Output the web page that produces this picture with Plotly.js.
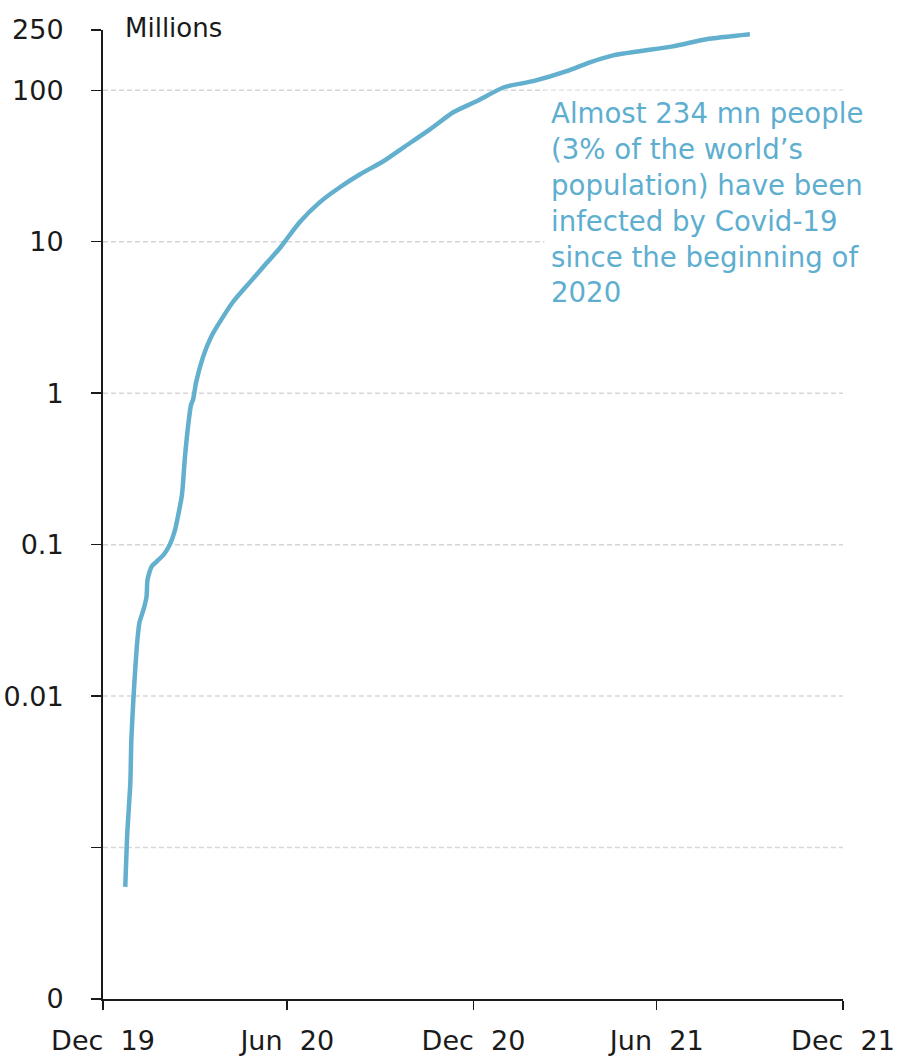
<!DOCTYPE html>
<html>
<head>
<meta charset="utf-8">
<script src="https://cdn.plot.ly/plotly-3.0.1.min.js"></script>
<style>
  html, body { margin: 0; padding: 0; background: #ffffff; }
  #chart { width: 897px; height: 1058px; }
</style>
</head>
<body>
<div id="chart"></div>
<script>
// Cumulative Covid-19 cases, millions
var dates = ['2020-01-22','2020-01-24','2020-01-27','2020-01-28','2020-01-30','2020-02-01','2020-02-03','2020-02-05','2020-02-09','2020-02-12','2020-02-13','2020-02-17','2020-02-22','2020-02-29','2020-03-06','2020-03-11','2020-03-14','2020-03-18','2020-03-21','2020-03-24','2020-03-27','2020-03-29','2020-04-01','2020-04-08','2020-04-16','2020-04-26','2020-05-07','2020-05-24','2020-06-09','2020-06-22','2020-06-28','2020-07-12','2020-08-01','2020-08-21','2020-09-10','2020-10-03','2020-10-23','2020-11-18','2020-12-11','2021-01-03','2021-01-30','2021-02-28','2021-04-02','2021-04-25','2021-05-18','2021-06-13','2021-07-16','2021-08-18','2021-09-30'];
var cases = [0.00055,0.00125,0.00267,0.00514,0.00946,0.0156,0.0235,0.0306,0.0372,0.0453,0.0588,0.0716,0.0773,0.0859,0.100,0.124,0.153,0.214,0.382,0.603,0.84,0.908,1.18,1.75,2.37,3.07,3.97,5.39,7.15,8.95,10.1,13.4,18.2,22.9,27.9,34.0,42.0,55.2,71.6,84.6,104.7,114.8,133.6,153,170,181,195,217,234];

var xTickVals = ['2019-12-31','2020-06-30','2020-12-31','2021-06-30','2021-12-31'];
var xTickText = ['Dec\u00a0 19','Jun\u00a0 20','Dec\u00a0 20','Jun\u00a0 21','Dec\u00a0 21'];
var yTickVals = [0.0001, 0.001, 0.01, 0.1, 1, 10, 100, 250];
var yTickText = ['0', '', '0.01', '0.1', '1', '10', '100', '250'];
var gridVals = [0.001, 0.01, 0.1, 1, 10, 100];

var annotationText = 'Almost 234 mn people<br>(3% of the world\u2019s<br>population) have been<br>infected by Covid-19<br>since the beginning of<br>2020';

var FONT = 'DejaVu Sans, sans-serif';
var LINE_COLOR = '#63afce';

var shapes = gridVals.map(function (v) {
  return {
    type: 'line', xref: 'paper', x0: 0, x1: 1, yref: 'y', y0: v, y1: v,
    line: { color: '#d6d6d6', width: 1.5, dash: '5px,3px' }, layer: 'below'
  };
});

var trace = {
  x: dates, y: cases, type: 'scatter', mode: 'lines',
  line: { color: LINE_COLOR, width: 4.5, shape: 'spline', smoothing: 0.6 },
  hoverinfo: 'skip'
};

var layout = {
  width: 897, height: 1058,
  margin: { l: 103, r: 54, t: 30, b: 59 },
  paper_bgcolor: '#ffffff', plot_bgcolor: '#ffffff',
  showlegend: false,
  font: { family: FONT, color: '#1a1a1a', size: 27 },
  xaxis: {
    type: 'date',
    range: ['2019-12-31', '2021-12-31'],
    tickmode: 'array', tickvals: xTickVals, ticktext: xTickText,
    ticks: 'outside', ticklen: 9, tickwidth: 1.5, tickcolor: '#1a1a1a',
    showline: true, linecolor: '#1a1a1a', linewidth: 2,
    showgrid: false, zeroline: false,
    tickfont: { family: FONT, size: 27, color: '#1a1a1a' },
    ticklabelstandoff: 8
  },
  yaxis: {
    type: 'log',
    range: [-4, Math.log10(250)],
    tickmode: 'array', tickvals: yTickVals, ticktext: yTickText,
    ticks: 'outside', ticklen: 10, tickwidth: 1.5, tickcolor: '#1a1a1a',
    showline: true, linecolor: '#1a1a1a', linewidth: 2,
    showgrid: false, zeroline: false,
    tickfont: { family: FONT, size: 27, color: '#1a1a1a' },
    ticklabelstandoff: 22
  },
  shapes: shapes,
  annotations: [
    {
      xref: 'paper', yref: 'paper', x: 0.027, y: 1.002,
      xanchor: 'left', yanchor: 'middle', showarrow: false,
      text: 'Millions', font: { family: FONT, size: 26, color: '#1a1a1a' }
    },
    {
      xref: 'paper', yref: 'paper', x: 0.596, y: 0.938,
      xanchor: 'left', yanchor: 'top', showarrow: false, align: 'left',
      bgcolor: '#ffffff', borderpad: 6,
      text: annotationText, font: { family: FONT, size: 27.6, color: '#5eaed0' }
    }
  ]
};

Plotly.newPlot('chart', [trace], layout, { staticPlot: true, displayModeBar: false });
</script>
</body>
</html>
